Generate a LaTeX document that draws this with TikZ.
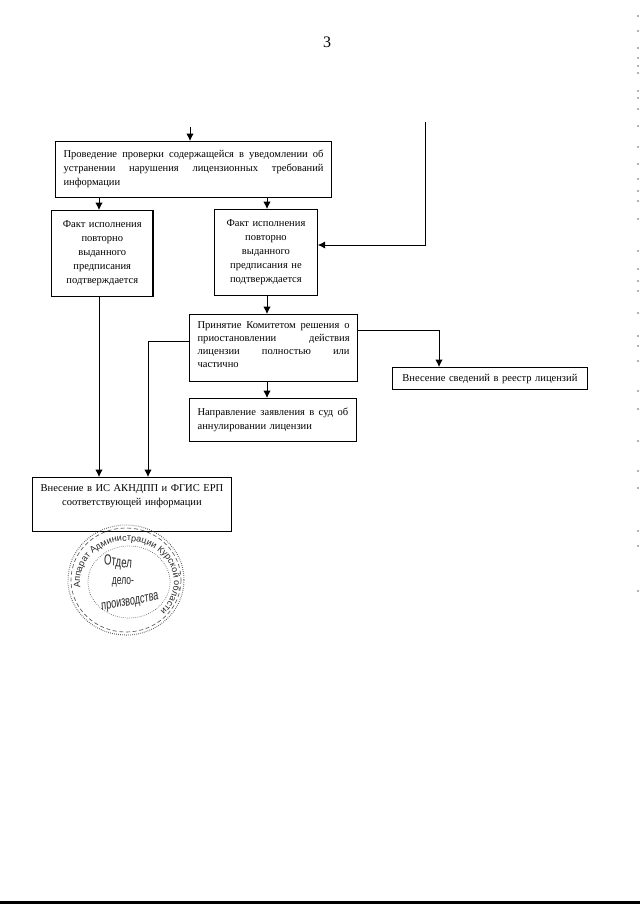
\documentclass[tikz,border=0pt]{standalone}
\usepackage{fontspec}
\setmainfont[WordSpace=0.7]{Liberation Serif}
\newfontfamily\stampfont{Liberation Sans}
\usetikzlibrary{arrows.meta,decorations.text}
\newcommand{\fullline}[1]{\hbox to \hsize{\spaceskip=0pt\xspaceskip=0pt #1}}
\tikzset{
    stepbox/.style={draw,line width=0.9pt,anchor=north west,inner xsep=6pt,inner ysep=0pt,
        font=\fontsize{7.9}{10.5}\selectfont,align=left},
    midbox/.style={stepbox,align=center},
    flow/.style={-{Latex[length=5.5pt,width=5.5pt]},line width=0.65pt},
    stampline/.style={gray!70!black,line width=0.5pt},
    stamptext/.style={font=\stampfont\fontsize{#1}{10}\selectfont,xscale=0.85,yscale=1.3,text=black!85},
}

\begin{document}
\begin{tikzpicture}[x=0.75pt,y=-0.75pt]
    \useasboundingbox (0,0) rectangle (640,905);

    % page number
    \node[font=\fontsize{12}{14}\selectfont] (pagenum) at (327,42) {3};

    % boxes
    \node[stepbox,text width=195pt,minimum height=42pt] (check) at (55,141)
        {\fullline{Проведение проверки содержащейся в уведомлении об}
         \fullline{устранении нарушения лицензионных требований}
         информации\\[-7.5pt]\mbox{}};
    \node[midbox,text width=64pt,minimum height=64.5pt] (factyes) at (51,210)
        {Факт исполнения\\повторно\\выданного\\предписания\\подтверждается};
    \node[midbox,text width=65pt,minimum height=64.5pt] (factno) at (214,209)
        {Факт исполнения\\повторно\\выданного\\предписания не\\подтверждается};
    \node[stepbox,text width=114pt,minimum height=50pt,font=\fontsize{7.9}{9.7}\selectfont] (decision) at (189,314)
        {\fullline{Принятие Комитетом решения о}
         \fullline{приостановлении действия}
         \fullline{лицензии полностью или}
         частично\\[-5pt]\mbox{}};
    \node[stepbox,text width=113pt,minimum height=32pt] (court) at (189,398)
        {\fullline{Направление заявления в суд об}
         аннулировании лицензии};
    \node[midbox,text width=134pt,minimum height=16.5pt] (registry) at (392,367)
        {Внесение\ сведений в реестр лицензий};
    \node[midbox,text width=137pt,minimum height=40.5pt] (entry) at (32,477)
        {\fullline{Внесение в ИС АКНДПП и ФГИС ЕРП}
         соответствующей информации\\[4.5pt]\mbox{}};

    % free ends and bends
    \coordinate (entrytop) at (190,127);
    \coordinate (loopstart) at (425,122);
    \coordinate (loopturn) at (425,245);
    \coordinate (regturn) at (439,330);
    \coordinate (backturn) at (148,341);
    \coordinate (yesdrop) at (99,197);
    \coordinate (nodrop) at (267,197);

    % connectors
    \draw[flow] (entrytop) -- (entrytop |- check.north);
    \draw[flow] (yesdrop) -- (yesdrop |- factyes.north);
    \draw[flow] (nodrop) -- (nodrop |- factno.north);
    \draw[flow] (nodrop |- factno.south) -- (nodrop |- decision.north);
    \draw[flow] (nodrop |- decision.south) -- (nodrop |- court.north);
    \draw[flow] (yesdrop |- factyes.south) -- (yesdrop |- entry.north);
    \draw[flow] (loopstart) -- (loopturn) -- (loopturn -| factno.east);
    \draw[flow] (regturn -| decision.east) -- (regturn) -- (regturn |- registry.north);
    \draw[flow] (backturn -| decision.west) -- (backturn) -- (backturn |- entry.north);

    % stamp
    \draw[stampline,densely dotted,line width=0.8pt] (126,580) ellipse [x radius=58,y radius=55];
    \draw[stampline,densely dashed] (126,580) ellipse [x radius=55,y radius=52];
    \draw[stampline,densely dotted] (129,582) ellipse [x radius=41,y radius=36];
    \path[decorate,decoration={text along path,text align=center,
        text={|\stampfont\fontsize{6.8}{7}\selectfont\color{black!85}|Аппарат Администрации Курской области}}]
        (127,582)+(150:47 and 41) arc [start angle=150,end angle=425,x radius=47,y radius=41];
    \node[stamptext=8.5,rotate=-5] (stampa) at (118,563) {Отдел};
    \node[stamptext=7.5] (stampb) at (123,582) {дело-};
    \node[stamptext=8,rotate=7] (stampd) at (130,603) {производства};

    % scan noise at the right edge
    \foreach \y in {15,30,47,57,65,72,90,97,108,125,146,163,178,190,200,218,
        250,268,280,290,312,335,345,360,390,408,440,470,487,530,545,590}
        \draw[gray!60,line width=0.8pt] (638,\y) -- (638,\y+2);

    % bottom edge of the scan
    \coordinate (edgeleft) at (0,902.5);
    \coordinate (edgeright) at (640,902.5);
    \draw[line width=1.6pt] (edgeleft) -- (edgeright);
\end{tikzpicture}
\end{document}
